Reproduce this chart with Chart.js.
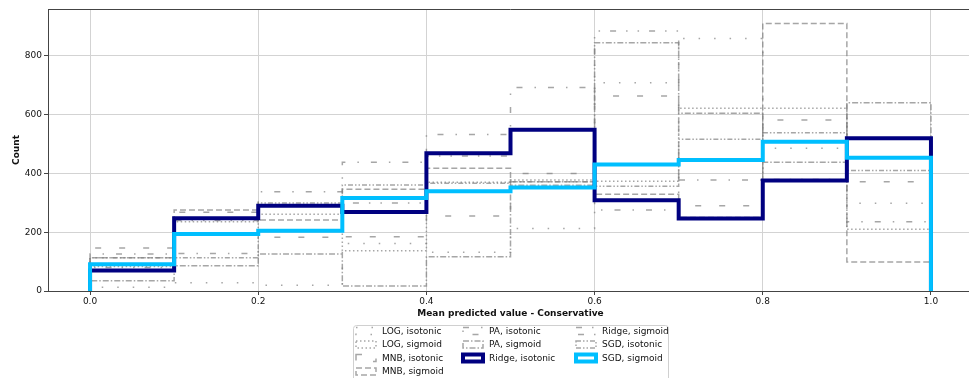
<!DOCTYPE html>
<html>
<head>
<meta charset="utf-8">
<script src="https://cdn.jsdelivr.net/npm/chart.js@4.4.1/dist/chart.umd.min.js"></script>
<style>
  html, body { margin: 0; padding: 0; background: #fff; overflow: hidden; }
  #wrap { width: 969px; height: 378px; overflow: hidden; }
</style>
</head>
<body>
<div id="wrap"><canvas id="calib" width="980" height="378"></canvas></div>
<script>
// bin edges of the histogram and axis ticks
const binEdges = [0.0, 0.1, 0.2, 0.3, 0.4, 0.5, 0.6, 0.7, 0.8, 0.9, 1.0];
const xTicks = [0.0, 0.2, 0.4, 0.6, 0.8, 1.0];
const yTicks = [0, 200, 400, 600, 800];

// counts per bin
const logIsotonic   = [13, 28, 20, 162, 132, 213, 709, 860, 486, 299];
const logSigmoid    = [83, 236, 261, 137, 370, 378, 374, 622, 622, 210];
const mnbIsotonic   = [146, 268, 183, 185, 255, 400, 664, 290, 582, 372];
const mnbSigmoid    = [113, 276, 242, 346, 418, 372, 329, 250, 911, 99];
const paIsotonic    = [126, 128, 338, 438, 533, 693, 276, 378, 510, 236];
const paSigmoid     = [35, 86, 126, 17, 117, 360, 845, 605, 438, 641];
const ridgeIsotonic = [70, 248, 290, 269, 469, 549, 309, 247, 376, 520];
const ridgeSigmoid  = [80, 240, 290, 300, 460, 550, 885, 450, 380, 457];
const sgdIsotonic   = [113, 113, 300, 361, 367, 372, 357, 517, 539, 410];
const sgdSigmoid    = [91, 194, 205, 317, 340, 352, 431, 446, 508, 454];

const GREY = 'rgba(128,128,128,0.7)';
const FONT = '"DejaVu Sans", sans-serif';

// turn counts into an open step outline like histtype='step'
function stepPoints(counts) {
  const pts = [{ x: binEdges[0], y: 0 }];
  counts.forEach((c, i) => {
    pts.push({ x: binEdges[i], y: c });
    pts.push({ x: binEdges[i + 1], y: c });
  });
  pts.push({ x: binEdges[binEdges.length - 1], y: 0 });
  return pts;
}

function ds(label, counts, color, width, dash, order) {
  return {
    label: label,
    data: stepPoints(counts),
    borderColor: color,
    borderWidth: width,
    borderDash: dash,
    borderJoinStyle: 'miter',
    pointRadius: 0,
    tension: 0,
    fill: false,
    order: order
  };
}

const datasets = [
  ds('LOG, isotonic', logIsotonic, GREY, 1.5, [1.5, 14], 11),
  ds('LOG, sigmoid', logSigmoid, GREY, 1.5, [1.5, 2.5], 10),
  ds('MNB, isotonic', mnbIsotonic, GREY, 1.5, [6, 18], 9),
  ds('MNB, sigmoid', mnbSigmoid, GREY, 1.5, [6, 3], 8),
  ds('PA, isotonic', paIsotonic, GREY, 1.5, [6, 12, 1.5, 12], 7),
  ds('PA, sigmoid', paSigmoid, GREY, 1.5, [6, 2, 1.5, 2], 6),
  ds('Ridge, isotonic', ridgeIsotonic, '#000080', 4, [], 1),
  ds('Ridge, sigmoid', ridgeSigmoid, GREY, 1.5, [6, 10, 1.5, 10, 1.5, 10], 5),
  ds('SGD, isotonic', sgdIsotonic, GREY, 1.5, [5, 2, 1.5, 2, 1.5, 2], 4),
  ds('SGD, sigmoid', sgdSigmoid, '#00bfff', 4, [], 0)
];

// top frame line + 3-column legend below the axis
const framePlugin = {
  id: 'frame',
  afterDraw(chart) {
    const { ctx, chartArea } = chart;
    ctx.save();
    ctx.strokeStyle = '#444';
    ctx.lineWidth = 1;
    ctx.beginPath();
    ctx.moveTo(chartArea.left, chartArea.top + 0.5);
    ctx.lineTo(chartArea.right, chartArea.top + 0.5);
    ctx.stroke();

    // legend frame
    const bx = 353.5, by = 325.5, bw = 315, bh = 70, r = 3;
    ctx.fillStyle = '#fff';
    ctx.strokeStyle = '#d0d0d0';
    ctx.beginPath();
    ctx.moveTo(bx + r, by);
    ctx.arcTo(bx + bw, by, bx + bw, by + bh, r);
    ctx.arcTo(bx + bw, by + bh, bx, by + bh, r);
    ctx.arcTo(bx, by + bh, bx, by, r);
    ctx.arcTo(bx, by, bx + bw, by, r);
    ctx.closePath();
    ctx.fill();
    ctx.stroke();

    const colX = [356, 463, 576];
    const rowY = [331, 344.5, 358, 371.5];
    const perCol = [4, 3, 3];
    ctx.font = '9px ' + FONT;
    ctx.textBaseline = 'middle';
    let k = 0;
    perCol.forEach((n, c) => {
      for (let r2 = 0; r2 < n; r2++, k++) {
        const d = chart.data.datasets[k];
        const hx = colX[c], hy = rowY[r2];
        ctx.save();
        ctx.strokeStyle = d.borderColor;
        ctx.lineWidth = d.borderWidth;
        ctx.setLineDash(d.borderDash);
        ctx.strokeRect(hx, hy - 3.5, 20, 7);
        ctx.restore();
        ctx.fillStyle = '#111';
        ctx.fillText(d.label, hx + 26, hy + 0.5);
      }
    });
    ctx.restore();
  }
};

new Chart(document.getElementById('calib'), {
  type: 'line',
  data: { datasets: datasets },
  options: {
    responsive: false,
    animation: false,
    layout: { padding: { left: 11, top: 9, right: 7, bottom: 59 } },
    plugins: {
      legend: { display: false },
      tooltip: { enabled: false }
    },
    scales: {
      x: {
        type: 'linear',
        min: -0.05,
        max: 1.05,
        afterBuildTicks: (scale) => { scale.ticks = xTicks.map(v => ({ value: v })); },
        afterFit: (scale) => { scale.height = 28; },
        ticks: {
          color: '#111',
          font: { family: FONT, size: 9 },
          padding: 1,
          maxRotation: 0,
          callback: (v) => Number(v).toFixed(1)
        },
        grid: { color: '#d3d3d3', lineWidth: 1, tickLength: 4, tickColor: '#444' },
        border: { color: '#444', width: 1 },
        title: {
          display: true,
          text: 'Mean predicted value - Conservative',
          color: '#111',
          font: { family: FONT, size: 9, weight: 'bold' },
          padding: 0
        }
      },
      y: {
        min: 0,
        max: 960,
        afterBuildTicks: (scale) => { scale.ticks = yTicks.map(v => ({ value: v })); },
        afterFit: (scale) => { scale.width = 37; },
        ticks: {
          color: '#111',
          font: { family: FONT, size: 9 },
          padding: 2
        },
        grid: { color: '#d3d3d3', lineWidth: 1, tickLength: 4, tickColor: '#444' },
        border: { color: '#444', width: 1 },
        title: {
          display: true,
          text: 'Count',
          color: '#111',
          font: { family: FONT, size: 9, weight: 'bold' },
          padding: 0
        }
      }
    }
  },
  plugins: [framePlugin]
});
</script>
</body>
</html>
